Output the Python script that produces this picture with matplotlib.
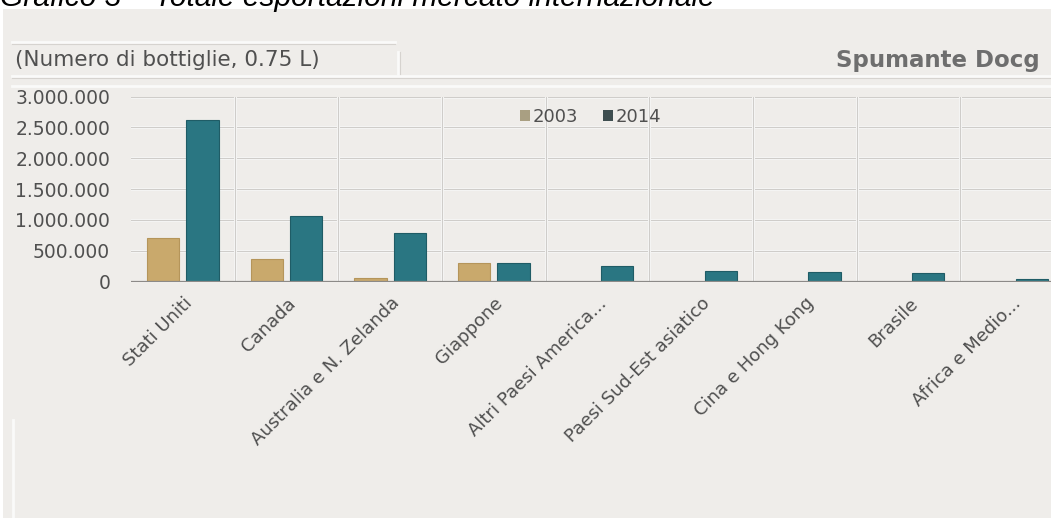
import numpy as np
import matplotlib
matplotlib.use("Agg")
import matplotlib.pyplot as plt
from matplotlib.patches import Rectangle
from matplotlib.lines import Line2D
from matplotlib.ticker import FuncFormatter

# Export volumes by market (bottles of 0.75 L)
categories = ["Stati Uniti", "Canada", "Australia e N. Zelanda", "Giappone",
              "Altri Paesi America...", "Paesi Sud-Est asiatico",
              "Cina e Hong Kong", "Brasile", "Africa e Medio..."]
values_2003 = [710000, 368000, 60000, 299000, 0, 0, 0, 0, 0]
values_2014 = [2620000, 1067000, 790000, 308000, 255000, 179000, 162000, 136000, 44000]
series_labels = ["2003", "2014"]
y_ticks = [0, 500000, 1000000, 1500000, 2000000, 2500000, 3000000]

W, H = 1051, 518
fig = plt.figure(figsize=(W / 100, H / 100), dpi=100)
fig.patch.set_facecolor("white")

def fx(px):
    return px / W

def fy(py):
    return 1 - py / H

# grey panel behind the chart
panel = Rectangle((fx(3), 0), 1, fy(9), transform=fig.transFigure,
                  facecolor="#EFEDEA", edgecolor="none", zorder=-5)
fig.patches.append(panel)

# header boxes
line_kw = dict(transform=fig.transFigure, color="#FAFAF9", lw=2.0, zorder=-4)
fig.lines.append(Line2D([fx(12), fx(395)], [fy(42), fy(42)], **line_kw))
fig.lines.append(Line2D([fx(12), fx(1051)], [fy(76), fy(76)], **line_kw))
fig.lines.append(Line2D([fx(398), fx(398)], [fy(52), fy(74)], **line_kw))
fig.lines.append(Line2D([fx(12), fx(1051)], [fy(86), fy(86)], **line_kw))
fig.lines.append(Line2D([fx(13), fx(13)], [fy(420), 0], **line_kw))
edge_kw = dict(transform=fig.transFigure, color="#D6D3CF", lw=0.8, zorder=-4)
fig.lines.append(Line2D([fx(12), fx(395)], [fy(43.5), fy(43.5)], **edge_kw))
fig.lines.append(Line2D([fx(399.5), fx(399.5)], [fy(52), fy(74)], **edge_kw))
fig.lines.append(Line2D([fx(12), fx(1051)], [fy(77.5), fy(77.5)], **edge_kw))

fig.text(0.0, fy(6.5), "Grafico 3 \u2013 Totale esportazioni mercato internazionale",
         family="Liberation Sans", style="italic", fontsize=21.5, color="black",
         ha="left", va="baseline", zorder=3)
fig.text(fx(15), fy(60), "(Numero di bottiglie, 0.75 L)", fontsize=15.5,
         color="#505050", ha="left", va="center", zorder=3)
fig.text(fx(1040), fy(60), "Spumante Docg", fontsize=16.5, fontweight="bold",
         color="#6E6E6E", ha="right", va="center", zorder=3)

ax = fig.add_axes([fx(131), fy(281.7), fx(1064 - 131), (281.7 - 96.5) / H])
ax.set_facecolor("none")

x = np.arange(len(categories))
width = 0.31
offset = 0.19
ax.bar(x - offset, values_2003, width, color="#C9A96C", edgecolor="#B5955A",
       linewidth=0.8, zorder=3)
ax.bar(x + offset, values_2014, width, color="#2A7682", edgecolor="#1F5C66",
       linewidth=0.8, zorder=3)

ax.set_xlim(-0.5, len(categories) - 0.5)
ax.set_ylim(0, 3000000)
ax.set_yticks(y_ticks)
ax.yaxis.set_major_formatter(FuncFormatter(lambda v, p: f"{int(v):,}".replace(",", ".")))
ax.set_xticks(x)
ax.set_xticklabels(categories, rotation=45, ha="right", rotation_mode="anchor")

# gridlines: horizontal at each tick, vertical between categories
for yv in y_ticks[1:]:
    ax.axhline(yv, color="#FAFAFA", lw=2.2, zorder=1)
    ax.axhline(yv, color="#CFCDCA", lw=0.9, zorder=1)
for b in np.arange(0.5, len(categories), 1.0):
    ax.axvline(b, color="#FAFAFA", lw=2.2, zorder=1)
    ax.axvline(b, color="#CFCDCA", lw=0.9, zorder=1)
ax.axhline(0, color="#8C8A88", lw=1.6, zorder=4)

for s in ax.spines.values():
    s.set_visible(False)
ax.tick_params(axis="both", length=0, colors="#505050")
ax.tick_params(axis="y", labelsize=13.5, pad=15)
ax.tick_params(axis="x", labelsize=13, pad=9)

# legend
handles = [Rectangle((0, 0), 1, 1, facecolor="#A99F82"),
           Rectangle((0, 0), 1, 1, facecolor="#3E4E50")]
ax.legend(handles, series_labels, loc="upper left", bbox_to_anchor=((516 - 131) / (1064 - 131), 0.96),
          ncol=2, frameon=False, fontsize=13, handlelength=0.55, handleheight=0.55,
          handletextpad=0.15, columnspacing=1.4, labelcolor="#505050",
          borderaxespad=0.0, borderpad=0.2)

fig.savefig("out.png", dpi=100, facecolor=fig.get_facecolor())
